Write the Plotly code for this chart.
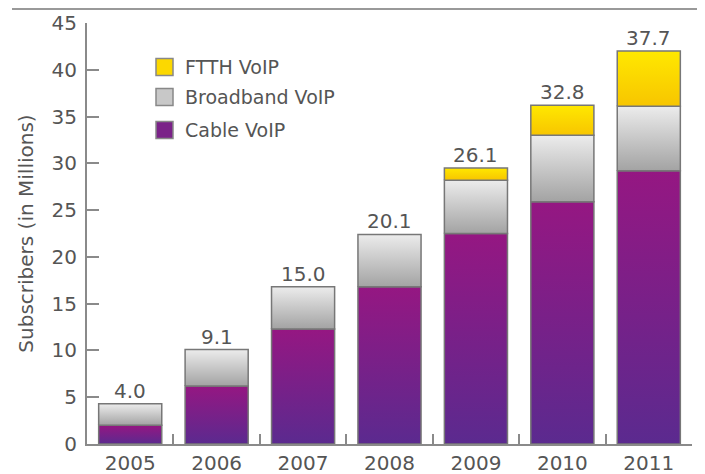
import plotly.graph_objects as go

# Data
years = ["2005", "2006", "2007", "2008", "2009", "2010", "2011"]
cable_voip = [2.0, 6.2, 12.3, 16.8, 22.5, 25.9, 29.2]
broadband_voip = [2.3, 3.9, 4.5, 5.6, 5.7, 7.1, 6.9]
ftth_voip = [0, 0, 0, 0, 1.3, 3.2, 5.9]
total_labels = ["4.0", "9.1", "15.0", "20.1", "26.1", "32.8", "37.7"]
y_ticks = [0, 5, 10, 15, 20, 25, 30, 35, 40, 45]

# Styles
FONT = "DejaVu Sans"
TEXT = "#555555"
AXIS = "#8a8a8a"
EDGE = "#777777"
BAR_W = 0.73
W, H = 705, 474
OFF = 8  # page body margin
ML, MR, MT, MB = 79, 21, 15, 38

series = [
    ("Cable VoIP", cable_voip, "#5b2a8f", "#951782"),
    ("Broadband VoIP", broadband_voip, "#a3a3a3", "#ececec"),
    ("FTTH VoIP", ftth_voip, "#f7c500", "#ffe800"),
]


def px_x(px):
    return (px - OFF - ML) / (W - ML - MR)


def px_y(py):
    return (H - MB - (py - OFF)) / (H - MB - MT)


fig = go.Figure()

# stacked segments, each with its own vertical gradient
base = [0.0] * len(years)
for name, vals, c_bot, c_top in series:
    for i, v in enumerate(vals):
        if v <= 0:
            continue
        b, t = base[i], base[i] + v
        fig.add_trace(go.Scatter(
            x=[i - BAR_W / 2, i + BAR_W / 2, i + BAR_W / 2, i - BAR_W / 2, i - BAR_W / 2],
            y=[b, b, t, t, b],
            mode="lines", fill="toself",
            fillgradient=dict(type="vertical", colorscale=[[0, c_bot], [1, c_top]]),
            line=dict(color=EDGE, width=1.5),
            name=name, showlegend=False, hoverinfo="skip",
        ))
    base = [base[i] + vals[i] for i in range(len(years))]

# total labels above each stack
for i, lab in enumerate(total_labels):
    fig.add_annotation(x=i, y=base[i], text=lab, showarrow=False,
                       yanchor="bottom", yshift=-1,
                       font=dict(family=FONT, size=20, color=TEXT))

# custom legend
legend_items = [("FTTH VoIP", "#fcd800", 67), ("Broadband VoIP", "#c8c8c8", 97),
                ("Cable VoIP", "#7a2288", 130)]
for label, col, cy in legend_items:
    fig.add_shape(type="rect", xref="paper", yref="paper",
                  x0=px_x(156), x1=px_x(173), y0=px_y(cy + 8.5), y1=px_y(cy - 8.5),
                  fillcolor=col, line=dict(color="#888888", width=1.5))
    fig.add_annotation(xref="paper", yref="paper", x=px_x(183), y=px_y(cy),
                       text=label, showarrow=False, xanchor="left", yanchor="middle",
                       font=dict(family=FONT, size=19, color=TEXT))

# thin rule along the top of the graphic
fig.add_shape(type="line", xref="paper", yref="paper",
              x0=px_x(12), x1=px_x(713), y0=px_y(9), y1=px_y(9),
              line=dict(color="#999999", width=2))

fig.update_layout(
    width=W, height=H, autosize=False,
    margin=dict(l=ML, r=MR, t=MT, b=MB),
    plot_bgcolor="white", paper_bgcolor="white",
    font=dict(family=FONT, color=TEXT),
    showlegend=False,
    xaxis=dict(range=[-0.5, 6.5], tickvals=list(range(len(years))), ticktext=years,
               ticks="", showgrid=False, zeroline=False, automargin=False,
               showline=True, linecolor=AXIS, linewidth=2,
               tickfont=dict(size=20, color=TEXT)),
    xaxis2=dict(range=[-0.5, 6.5], overlaying="x", side="bottom",
                tickvals=[k + 0.5 for k in range(len(years))],
                ticks="inside", ticklen=10, tickwidth=2, tickcolor=AXIS,
                showticklabels=False, showgrid=False, zeroline=False,
                automargin=False),
    yaxis=dict(range=[0, 45], tickvals=y_ticks, ticks="inside", ticklen=12,
               tickwidth=2, tickcolor=AXIS, showline=True, linecolor=AXIS,
               linewidth=2, showgrid=False, zeroline=False, automargin=False,
               ticklabelstandoff=4,
               tickfont=dict(size=20, color=TEXT),
               title=dict(text="Subscribers (in Millions)", standoff=13,
                          font=dict(size=20, color=TEXT))),
)

# dummy trace so the boundary-tick axis gets drawn
fig.add_trace(go.Scatter(x=[None], y=[None], xaxis="x2", showlegend=False,
                         hoverinfo="skip"))

fig.write_html("out.html")
